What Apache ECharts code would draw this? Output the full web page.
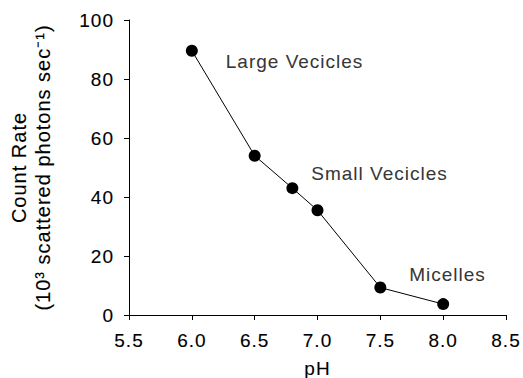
<!DOCTYPE html>
<html>
<head>
<meta charset="utf-8">
<script src="https://cdn.jsdelivr.net/npm/echarts@6/dist/echarts.min.js"></script>
<style>
  html, body { margin: 0; padding: 0; background: #fff; }
  #chart { width: 523px; height: 378px; }
  #chart text { letter-spacing: 1px; }
</style>
</head>
<body>
<div id="chart"></div>
<script>
// Data
const phValues = [6.0, 6.5, 6.8, 7.0, 7.5, 8.0];
const countRate = [89.6, 54.0, 43.0, 35.5, 9.3, 3.7];
const xTicks = [5.5, 6.0, 6.5, 7.0, 7.5, 8.0, 8.5];
const yTicks = [0, 20, 40, 60, 80, 100];
const annotationText = ['Large Vecicles', 'Small Vecicles', 'Micelles'];
const annotationX = [6.27, 6.95, 7.73];
const annotationY = [85.8, 48.1, 13.6];
const yTitleLines = ['Count Rate', '(10\u00B3 scattered photons sec\u207B\u00B9)'];
const xTitle = 'pH';

const FONT = '"Liberation Sans", Arial, Helvetica, sans-serif';
const FS = 19;
const STROKE = { textBorderColor: '#000', textBorderWidth: 0.12 };
const chart = echarts.init(document.getElementById('chart'), null, { renderer: 'svg' });

const option = {
  animation: false,
  backgroundColor: '#ffffff',
  grid: { left: 129, right: 17, top: 20, bottom: 63, containLabel: false, outerBoundsMode: 'none' },
  xAxis: {
    type: 'value',
    min: xTicks[0],
    max: xTicks[xTicks.length - 1],
    interval: 0.5,
    name: xTitle,
    nameLocation: 'middle',
    nameGap: 44,
    nameTextStyle: Object.assign({ color: '#000', fontSize: FS, fontFamily: FONT }, STROKE),
    axisLine: { show: true, lineStyle: { color: '#000', width: 1 } },
    axisTick: { show: true, inside: false, length: 5, lineStyle: { color: '#000' } },
    axisLabel: Object.assign({ color: '#000', fontSize: FS, fontFamily: FONT, margin: 16,
      formatter: v => v.toFixed(1) }, STROKE),
    splitLine: { show: false }
  },
  yAxis: {
    type: 'value',
    min: yTicks[0],
    max: yTicks[yTicks.length - 1],
    interval: 20,
    name: yTitleLines.join('\n'),
    nameLocation: 'middle',
    nameRotate: 90,
    nameGap: 74,
    nameTextStyle: Object.assign({
      color: '#000', fontFamily: FONT, fontSize: 20, align: 'center', lineHeight: 24
    }, STROKE),
    axisLine: { show: true, lineStyle: { color: '#000', width: 1 } },
    axisTick: { show: true, inside: false, length: 5, lineStyle: { color: '#000' } },
    axisLabel: Object.assign({ color: '#000', fontSize: FS, fontFamily: FONT, margin: 15 }, STROKE),
    splitLine: { show: false }
  },
  series: [
    {
      type: 'line',
      data: phValues.map((x, i) => [x, countRate[i]]),
      symbol: 'circle',
      symbolSize: 12,
      itemStyle: { color: '#000' },
      lineStyle: { color: '#000', width: 1 }
    },
    {
      type: 'scatter',
      data: annotationX.map((x, i) => ({ value: [x, annotationY[i]], name: annotationText[i] })),
      symbolSize: 0,
      silent: true,
      label: Object.assign({
        show: true,
        position: 'right',
        distance: 0,
        formatter: p => p.name,
        color: '#000',
        fontSize: FS,
        fontFamily: FONT
      }, STROKE)
    }
  ]
};
chart.setOption(option);
</script>
</body>
</html>
